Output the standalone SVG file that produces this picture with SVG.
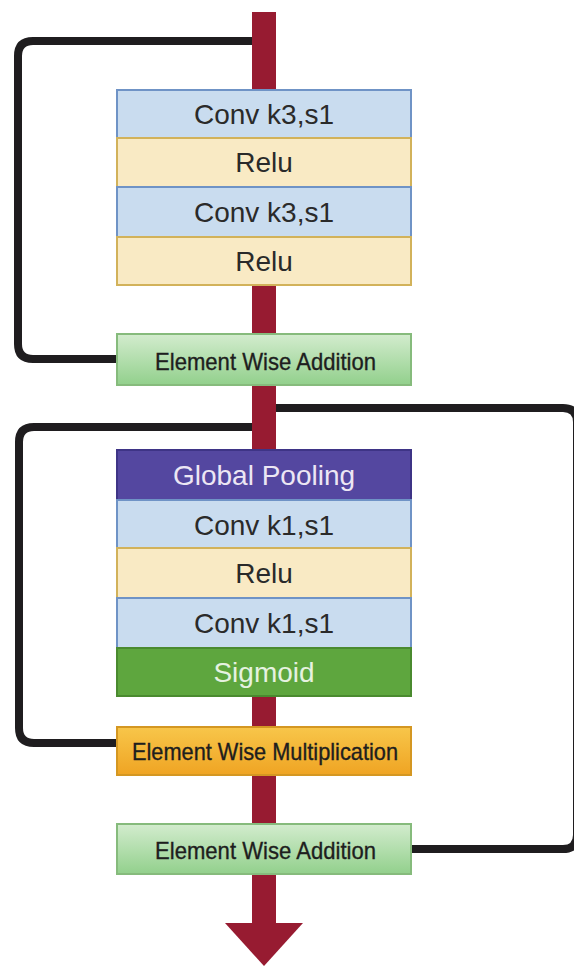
<svg xmlns="http://www.w3.org/2000/svg" width="574" height="967" viewBox="0 0 574 967">
  <defs>
    <linearGradient id="gAdd" x1="0" y1="0" x2="0" y2="1">
      <stop offset="0" stop-color="#d3ecce"/>
      <stop offset="1" stop-color="#92d08c"/>
    </linearGradient>
    <linearGradient id="gMul" x1="0" y1="0" x2="0" y2="1">
      <stop offset="0" stop-color="#f8c64a"/>
      <stop offset="1" stop-color="#efa423"/>
    </linearGradient>
    <style>
      .loop { fill: none; stroke: #1f1d1f; stroke-width: 8; stroke-linejoin: round; }
      .trunk { fill: #971b31; }
      .conv { fill: #c9dcef; stroke: #6f93c6; stroke-width: 2; }
      .relu { fill: #f9eac4; stroke: #d2b25a; stroke-width: 2; }
      .pool { fill: #5447a0; stroke: #3e3486; stroke-width: 2; }
      .sig  { fill: #5ea63e; stroke: #4a8a2f; stroke-width: 2; }
      .add  { fill: url(#gAdd); stroke: #86bb7c; stroke-width: 2; }
      .mul  { fill: url(#gMul); stroke: #d49722; stroke-width: 2; }
      .lbl  { font-family: "Liberation Sans", Arial, sans-serif; font-size: 28px; fill: #2a2a2a; text-anchor: middle; }
      .lt   { fill: #ece6f4; }
      .lg   { fill: #e6f2e0; }
      .op   { font-family: "Liberation Sans", Arial, sans-serif; font-size: 24px; fill: #1e1e1e; stroke: #1e1e1e; stroke-width: 0.35; }
    </style>
  </defs>

  <!-- connectors: skip loops and main data path -->
  <g id="connectors">
    <path class="loop" d="M 256 41 H 33 Q 18 41 18 56 V 344 Q 18 359 33 359 H 118"/>
    <path class="loop" d="M 256 427 H 34 Q 19 427 19 442 V 728 Q 19 743 34 743 H 118"/>
    <path class="loop" d="M 272 408 H 563 Q 577 408 577 422 V 835 Q 577 849 563 849 H 410"/>
    <rect class="trunk" x="252" y="12" width="24" height="913"/>
    <polygon class="trunk" points="225,923 303,923 264,966"/>
  </g>

  <!-- residual block -->
  <g id="conv1">
    <rect class="conv" x="117" y="90" width="294" height="48"/>
    <text class="lbl" x="264" y="124">Conv k3,s1</text>
  </g>
  <g id="relu1">
    <rect class="relu" x="117" y="138" width="294" height="49"/>
    <text class="lbl" x="264" y="172">Relu</text>
  </g>
  <g id="conv2">
    <rect class="conv" x="117" y="187" width="294" height="50"/>
    <text class="lbl" x="264" y="222">Conv k3,s1</text>
  </g>
  <g id="relu2">
    <rect class="relu" x="117" y="237" width="294" height="48"/>
    <text class="lbl" x="264" y="271">Relu</text>
  </g>
  <g id="add1">
    <rect class="add" x="117" y="334" width="294" height="51"/>
    <text class="op" x="155" y="370" textLength="221" lengthAdjust="spacingAndGlyphs">Element Wise Addition</text>
  </g>

  <!-- squeeze-and-excitation block -->
  <g id="pool">
    <rect class="pool" x="117" y="450" width="294" height="50"/>
    <text class="lbl lt" x="264" y="485">Global Pooling</text>
  </g>
  <g id="conv3">
    <rect class="conv" x="117" y="500" width="294" height="48"/>
    <text class="lbl" x="264" y="535">Conv k1,s1</text>
  </g>
  <g id="relu3">
    <rect class="relu" x="117" y="548" width="294" height="50"/>
    <text class="lbl" x="264" y="583">Relu</text>
  </g>
  <g id="conv4">
    <rect class="conv" x="117" y="598" width="294" height="50"/>
    <text class="lbl" x="264" y="633">Conv k1,s1</text>
  </g>
  <g id="sigmoid">
    <rect class="sig" x="117" y="648" width="294" height="48"/>
    <text class="lbl lg" x="264" y="682">Sigmoid</text>
  </g>
  <g id="mul">
    <rect class="mul" x="117" y="727" width="294" height="48"/>
    <text class="op" x="132" y="760" textLength="266" lengthAdjust="spacingAndGlyphs">Element Wise Multiplication</text>
  </g>
  <g id="add2">
    <rect class="add" x="117" y="824" width="294" height="50"/>
    <text class="op" x="155" y="859" textLength="221" lengthAdjust="spacingAndGlyphs">Element Wise Addition</text>
  </g>
</svg>
